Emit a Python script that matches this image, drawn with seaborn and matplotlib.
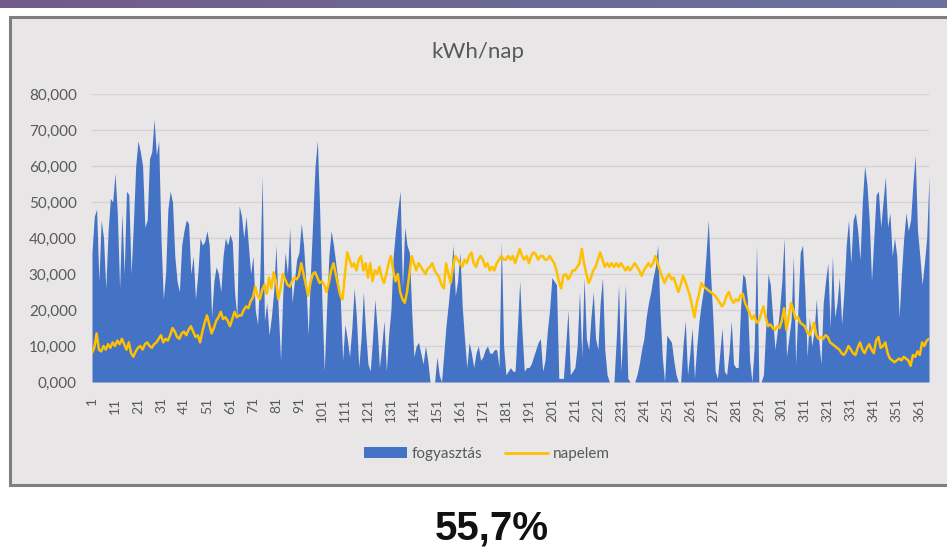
import numpy as np
import pandas as pd
import matplotlib
matplotlib.use("Agg")
import matplotlib.pyplot as plt
import seaborn as sns
from matplotlib.patches import Rectangle, Patch
from matplotlib.lines import Line2D
from matplotlib.colors import LinearSegmentedColormap
from matplotlib.ticker import FuncFormatter

# Daily consumption (kWh/day), days 1..365
fogyasztas = [
    36, 46, 48, 28, 45, 40, 26, 42, 51, 50,
    58, 47, 26, 47, 30, 53, 52, 30, 44, 60,
    67, 64, 60, 43, 45, 62, 64, 73, 63, 67,
    40, 23, 30, 48, 53, 50, 35, 28, 25, 38,
    42, 45, 44, 30, 35, 23, 30, 40, 38, 39,
    42, 38, 18, 28, 32, 30, 25, 35, 40, 38,
    41, 39, 25, 18, 49, 46, 40, 46, 38, 30,
    35, 20, 16, 30, 57, 17, 22, 13, 18, 25,
    38, 20, 6, 25, 36, 30, 43, 22, 28, 34,
    36, 44, 38, 28, 13, 30, 45, 60, 67, 48,
    22, 3, 20, 35, 42, 38, 33, 28, 23, 6,
    16, 12, 7, 15, 26, 18, 4, 12, 25, 14,
    5, 3, 12, 23, 15, 4, 10, 17, 3, 13,
    20, 35, 42, 48, 53, 26, 43, 38, 36, 20,
    7, 10, 11, 8, 5, 10, 6, 0, 0, 0,
    7, 2, 0, 8, 16, 22, 29, 38, 24, 28,
    36, 21, 12, 4, 11, 8, 4, 8, 10, 6,
    7, 9, 10, 8, 8, 9, 9, 4, 39, 10,
    2, 3, 4, 3, 3, 15, 28, 14, 3, 4,
    4, 5, 7, 9, 11, 12, 3, 6, 14, 20,
    29, 28, 27, 1, 1, 1, 10, 20, 2, 3,
    4, 10, 25, 7, 29, 12, 9, 18, 25, 12,
    9, 22, 29, 9, 2, 0, 0, 0, 12, 27,
    3, 15, 27, 1, 0, 0, 0, 2, 5, 9,
    12, 18, 22, 25, 29, 32, 38, 20, 7, 0,
    13, 12, 11, 6, 2, 0, 0, 10, 17, 2,
    8, 15, 1, 10, 17, 22, 26, 35, 45, 30,
    18, 3, 1, 8, 15, 3, 2, 8, 17, 5,
    4, 4, 20, 30, 29, 23, 6, 0, 10, 38,
    0, 0, 2, 15, 30, 27, 18, 9, 14, 20,
    28, 40, 7, 12, 17, 35, 5, 20, 36, 38,
    25, 7, 18, 10, 14, 23, 12, 5, 22, 28,
    33, 15, 35, 18, 22, 29, 16, 25, 38, 45,
    33, 45, 47, 42, 34, 50, 60, 55, 45, 28,
    40, 52, 53, 43, 50, 57, 43, 47, 35, 40,
    35, 18, 30, 40, 47, 42, 45, 55, 63, 42,
    35, 27, 33, 40, 57,
]

# Daily solar production (kWh/day), days 1..365
napelem = [
    8.0, 9.5, 13.5, 9.0, 8.5, 10.0, 9.0, 10.5, 9.5, 11.0,
    10.0, 11.5, 10.5, 12.0, 10.5, 9.0, 11.0, 8.0, 7.0, 8.5,
    9.5, 10.0, 9.0, 10.5, 11.0, 10.0, 9.5, 10.5, 11.0, 12.0,
    13.0, 11.0, 12.0, 11.5, 13.0, 15.0, 14.0, 12.5, 12.0, 13.5,
    14.0, 13.0, 14.5, 15.5, 14.0, 12.5, 13.0, 11.0, 14.0, 16.5,
    18.5, 16.0, 13.5, 15.0, 17.0, 18.0, 19.5, 17.5, 18.0, 17.0,
    15.5, 17.5, 19.5, 18.0, 18.5, 18.5, 20.0, 21.0, 20.5, 22.5,
    23.5, 26.5, 24.0, 23.0, 25.5, 27.0, 24.5, 29.0, 26.0, 30.5,
    28.0, 23.0, 26.0, 30.0, 28.5, 27.0, 26.5, 28.0, 29.0, 28.5,
    29.5, 33.0, 30.0, 27.0, 24.0, 27.5, 30.0, 30.5, 29.0, 27.5,
    28.0, 27.0, 25.0, 27.5, 31.0, 33.0, 30.0, 27.0, 24.0, 23.0,
    30.0, 36.0, 34.0, 32.0, 33.0, 31.0, 34.0, 35.0, 31.0, 33.0,
    29.0, 33.0, 28.0, 31.0, 30.0, 32.0, 29.0, 27.5, 30.0, 33.0,
    35.0, 31.0, 28.0, 30.0, 25.0, 23.0, 22.0, 25.0, 30.0, 35.0,
    33.0, 31.0, 33.0, 32.0, 31.0, 30.0, 31.5, 32.0, 33.0, 31.0,
    30.0, 29.0, 27.0, 26.0, 33.0, 30.0, 27.5, 32.0, 35.0, 34.0,
    33.0, 32.0, 34.0, 33.0, 35.0, 36.0, 33.0, 32.0, 34.0, 35.0,
    34.0, 32.0, 33.0, 31.0, 32.0, 31.0, 33.0, 34.0, 35.0, 34.0,
    34.0, 35.0, 34.0, 35.0, 33.0, 35.0, 37.0, 35.0, 34.0, 35.0,
    33.0, 35.0, 36.0, 35.5, 34.0, 35.0, 35.0, 34.0, 34.0, 35.0,
    34.0, 33.0, 31.0, 28.0, 26.0, 29.5, 30.0, 28.5, 29.5, 31.0,
    31.0, 32.0, 33.0, 37.0, 33.0, 30.0, 27.5, 29.0, 31.0, 32.0,
    34.0, 36.0, 34.0, 32.0, 33.0, 32.0, 33.0, 32.0, 33.0, 32.0,
    33.0, 32.0, 31.0, 32.0, 31.0, 32.0, 33.0, 32.0, 31.0, 29.5,
    31.0, 32.0, 33.0, 32.0, 33.0, 35.0, 33.0, 31.0, 29.0, 27.5,
    29.0, 30.0, 28.5, 29.0, 27.0, 25.0, 27.0, 29.5, 28.0, 26.0,
    24.0, 21.0, 18.0, 22.0, 24.5, 27.5, 26.5, 26.0, 25.5, 25.0,
    24.5, 24.0, 23.0, 22.0, 21.0, 22.0, 24.0, 25.0, 23.0, 22.0,
    23.0, 22.5, 24.0, 24.5, 22.0, 20.5, 19.0, 17.5, 18.5, 16.5,
    17.0, 19.0, 21.0, 18.0, 15.5, 16.0, 15.0, 14.5, 15.5, 15.0,
    17.0, 20.5, 14.5, 18.0, 22.0, 20.0, 17.5, 18.0, 16.5, 16.0,
    15.5, 14.0, 13.0, 14.5, 16.5, 13.0, 12.0, 12.5, 12.0, 13.0,
    12.5, 11.0, 10.5, 10.0, 9.5, 9.0, 8.0, 7.5, 8.5, 10.0,
    9.0, 8.0, 7.5, 9.5, 11.0, 9.0, 8.0, 9.5, 10.5, 9.0,
    8.0, 11.5, 12.5, 9.5, 10.0, 11.0, 8.0, 6.5, 6.0, 5.5,
    6.0, 6.5, 6.0, 7.0, 6.5, 6.0, 4.5, 7.5, 7.0, 8.5,
    7.5, 11.0, 10.0, 11.5, 12.0,
]

days = list(range(1, len(fogyasztas) + 1))
tick_days = list(range(1, 362, 10))
y_ticks = [0, 10, 20, 30, 40, 50, 60, 70, 80]

BLUE = "#4472c4"
YELLOW = "#ffc000"
TEXT = "#595959"
W, H = 947, 549

sns.set_theme(style="white")
plt.rcParams["font.family"] = ["Lato", "DejaVu Sans"]

fig = plt.figure(figsize=(W / 100, H / 100), dpi=100)
fig.patch.set_facecolor("white")

# chart frame behind everything
frame = fig.add_axes([0, 0, 1, 1], zorder=-5)
frame.axis("off")
frame.add_patch(Rectangle((10, 17), 945, 485 - 17, facecolor="#e8e6e6",
                          edgecolor="#7f7f7f", lw=2.2))
# purple header strip
grad = np.linspace(0, 1, 256).reshape(1, -1)
band_cmap = LinearSegmentedColormap.from_list("band", ["#735a8a", "#6c6894", "#6a72a0"])
frame.imshow(grad, aspect="auto", cmap=band_cmap, extent=(0, W, 8, 0))
frame.set_xlim(0, W)
frame.set_ylim(H, 0)

ax = fig.add_axes([92 / W, 1 - 382 / H, (929 - 92) / W, (382 - 94) / H], zorder=1)
ax.set_facecolor("none")

df = pd.DataFrame({"nap": days, "fogyasztás": fogyasztas, "napelem": napelem})

ax.fill_between(df["nap"], df["fogyasztás"], color=BLUE, lw=0, zorder=2)
sns.lineplot(data=df, x="nap", y="napelem", ax=ax, color=YELLOW, lw=1.8, zorder=3)

ax.set_xlim(1, len(days))
ax.set_ylim(0, 80)
ax.set_yticks(y_ticks)
ax.yaxis.set_major_formatter(FuncFormatter(lambda v, p: f"{v:.3f}".replace(".", ",")))
ax.set_xticks(tick_days)
ax.set_xticklabels([str(d) for d in tick_days], rotation=90)
ax.tick_params(axis="x", length=0, pad=11, labelsize=10, labelcolor=TEXT)
ax.tick_params(axis="y", length=0, pad=11, labelsize=11, labelcolor=TEXT)
ax.grid(axis="y", color="#d4d2d2", lw=1, zorder=0)
ax.set_axisbelow(True)
for s in ax.spines.values():
    s.set_visible(False)
ax.set_xlabel("")
ax.set_ylabel("")

fig.text(478 / W, 1 - 52 / H, "kWh/nap", ha="center", va="center",
         fontsize=16, color=TEXT)

handles = [Patch(facecolor=BLUE, edgecolor="none"),
           Line2D([0], [0], color=YELLOW, lw=2)]
fig.legend(handles, ["fogyasztás", "napelem"], loc="center",
           bbox_to_anchor=(487 / W, 1 - 454 / H), ncol=2, frameon=False,
           fontsize=11, labelcolor=TEXT, handlelength=2.8, handleheight=0.75,
           handletextpad=0.3, columnspacing=1.5)

fig.text(492 / W, 1 - 528 / H, "55,7%", ha="center", va="center",
         fontsize=29, fontweight="bold", family=["Liberation Sans", "DejaVu Sans"],
         color="#111111")

fig.savefig("out.png", dpi=100)
